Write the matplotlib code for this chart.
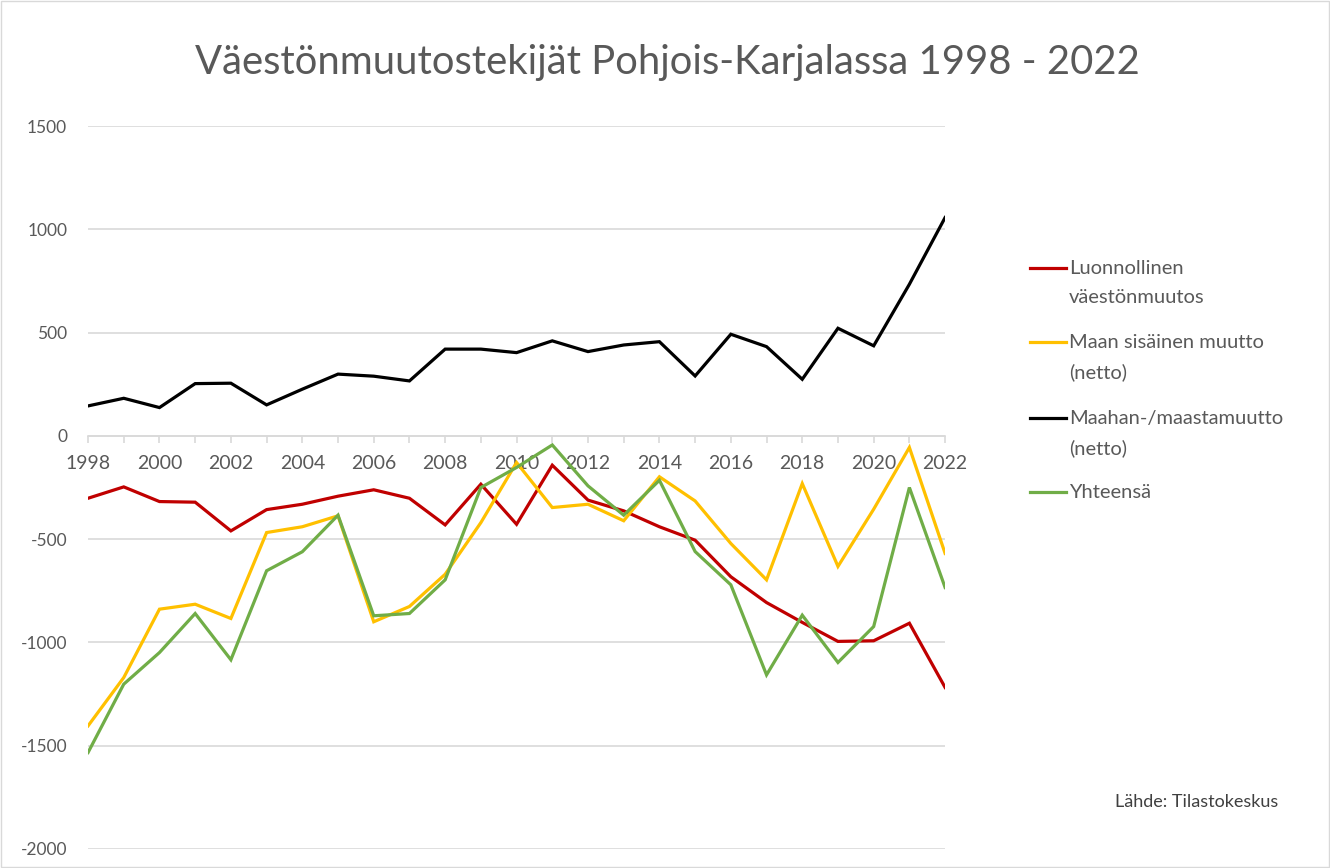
"""
Väestönmuutostekijät Pohjois-Karjalassa 1998 - 2022
"""
import matplotlib
matplotlib.use("Agg")
import matplotlib.pyplot as plt
from matplotlib.lines import Line2D
from matplotlib.patches import Rectangle

years = list(range(1998, 2023))

luonnollinen = [-302, -247, -318, -321, -460, -357, -331, -292, -261, -302, -431, -234,
                -428, -142, -311, -363, -440, -505, -682, -807, -903, -995, -992, -907, -1218]
sisainen = [-1404, -1170, -839, -815, -884, -468, -440, -387, -900, -826, -670, -420,
            -129, -347, -331, -411, -198, -315, -521, -697, -231, -632, -355, -56, -569]
maahanmuutto = [145, 182, 137, 253, 255, 150, 226, 299, 289, 266, 420, 420,
                403, 460, 408, 440, 456, 290, 492, 432, 274, 521, 436, 734, 1057]
yhteensa = [-1533, -1202, -1049, -860, -1084, -653, -561, -384, -871, -860, -697, -250,
            -153, -44, -242, -384, -215, -560, -721, -1157, -868, -1097, -923, -250, -734]

series_labels = ["Luonnollinen\nväestönmuutos", "Maan sisäinen muutto\n(netto)",
                 "Maahan-/maastamuutto\n(netto)", "Yhteensä"]
series_colors = ["#C00000", "#FFC000", "#000000", "#70AD47"]
y_ticks = [-2000, -1500, -1000, -500, 0, 500, 1000, 1500]

TXT = "#595959"
GRID = "#D9D9D9"
plt.rcParams["font.family"] = ["Lato", "DejaVu Sans"]

W, H = 1330, 868
fig = plt.figure(figsize=(W / 100, H / 100), dpi=100)
fig.patches.append(Rectangle((0.001, 0.001), 0.998, 0.998, transform=fig.transFigure,
                             fill=False, edgecolor=GRID, linewidth=1))
ax = fig.add_axes([0.0662, 0.0219, 0.6444, 0.8329])

series = [luonnollinen, sisainen, maahanmuutto, yhteensa]
for vals, lab, col in zip(series, series_labels, series_colors):
    ax.plot(years, vals, color=col, linewidth=2.3, label=lab, solid_joinstyle="miter", zorder=3)

ax.set_xlim(1998, 2022)
ax.set_ylim(-2000, 1500)
ax.set_yticks(y_ticks)
ax.set_yticklabels([str(v) for v in y_ticks])
ax.grid(axis="y", color=GRID, linewidth=1.2, zorder=0)
ax.set_xticks(years)
ax.set_xticklabels([str(y) if y % 2 == 0 else "" for y in years])
for s in ["top", "right", "left"]:
    ax.spines[s].set_visible(False)
ax.spines["bottom"].set_position(("data", 0))
ax.spines["bottom"].set_color(GRID)
ax.spines["bottom"].set_linewidth(1.2)
ax.tick_params(axis="x", direction="out", length=5, width=1.2, color=GRID, pad=9,
               labelsize=14, labelcolor=TXT)
ax.tick_params(axis="y", length=0, pad=15, labelsize=12.5, labelcolor=TXT)

fig.text(0.502, 0.928, "Väestönmuutostekijät Pohjois-Karjalassa 1998 - 2022",
         ha="center", va="center", fontsize=28.8, color=TXT)

# legend drawn by hand: handle aligned with the first text line, like Excel
legend_y = [268, 342, 418, 492]
for lab, col, py in zip(series_labels, series_colors, legend_y):
    yf = 1 - py / H
    fig.add_artist(Line2D([1030 / W, 1066 / W], [yf, yf], color=col, linewidth=2.3,
                          transform=fig.transFigure))
    fig.text(1069 / W, 1 - (py - 8) / H, lab, ha="left", va="top", fontsize=14.5,
             color=TXT, linespacing=1.85)

fig.text(0.961, 0.076, "Lähde: Tilastokeskus", ha="right", va="center", fontsize=13, color="#404040")

fig.savefig("out.png", dpi=100)
